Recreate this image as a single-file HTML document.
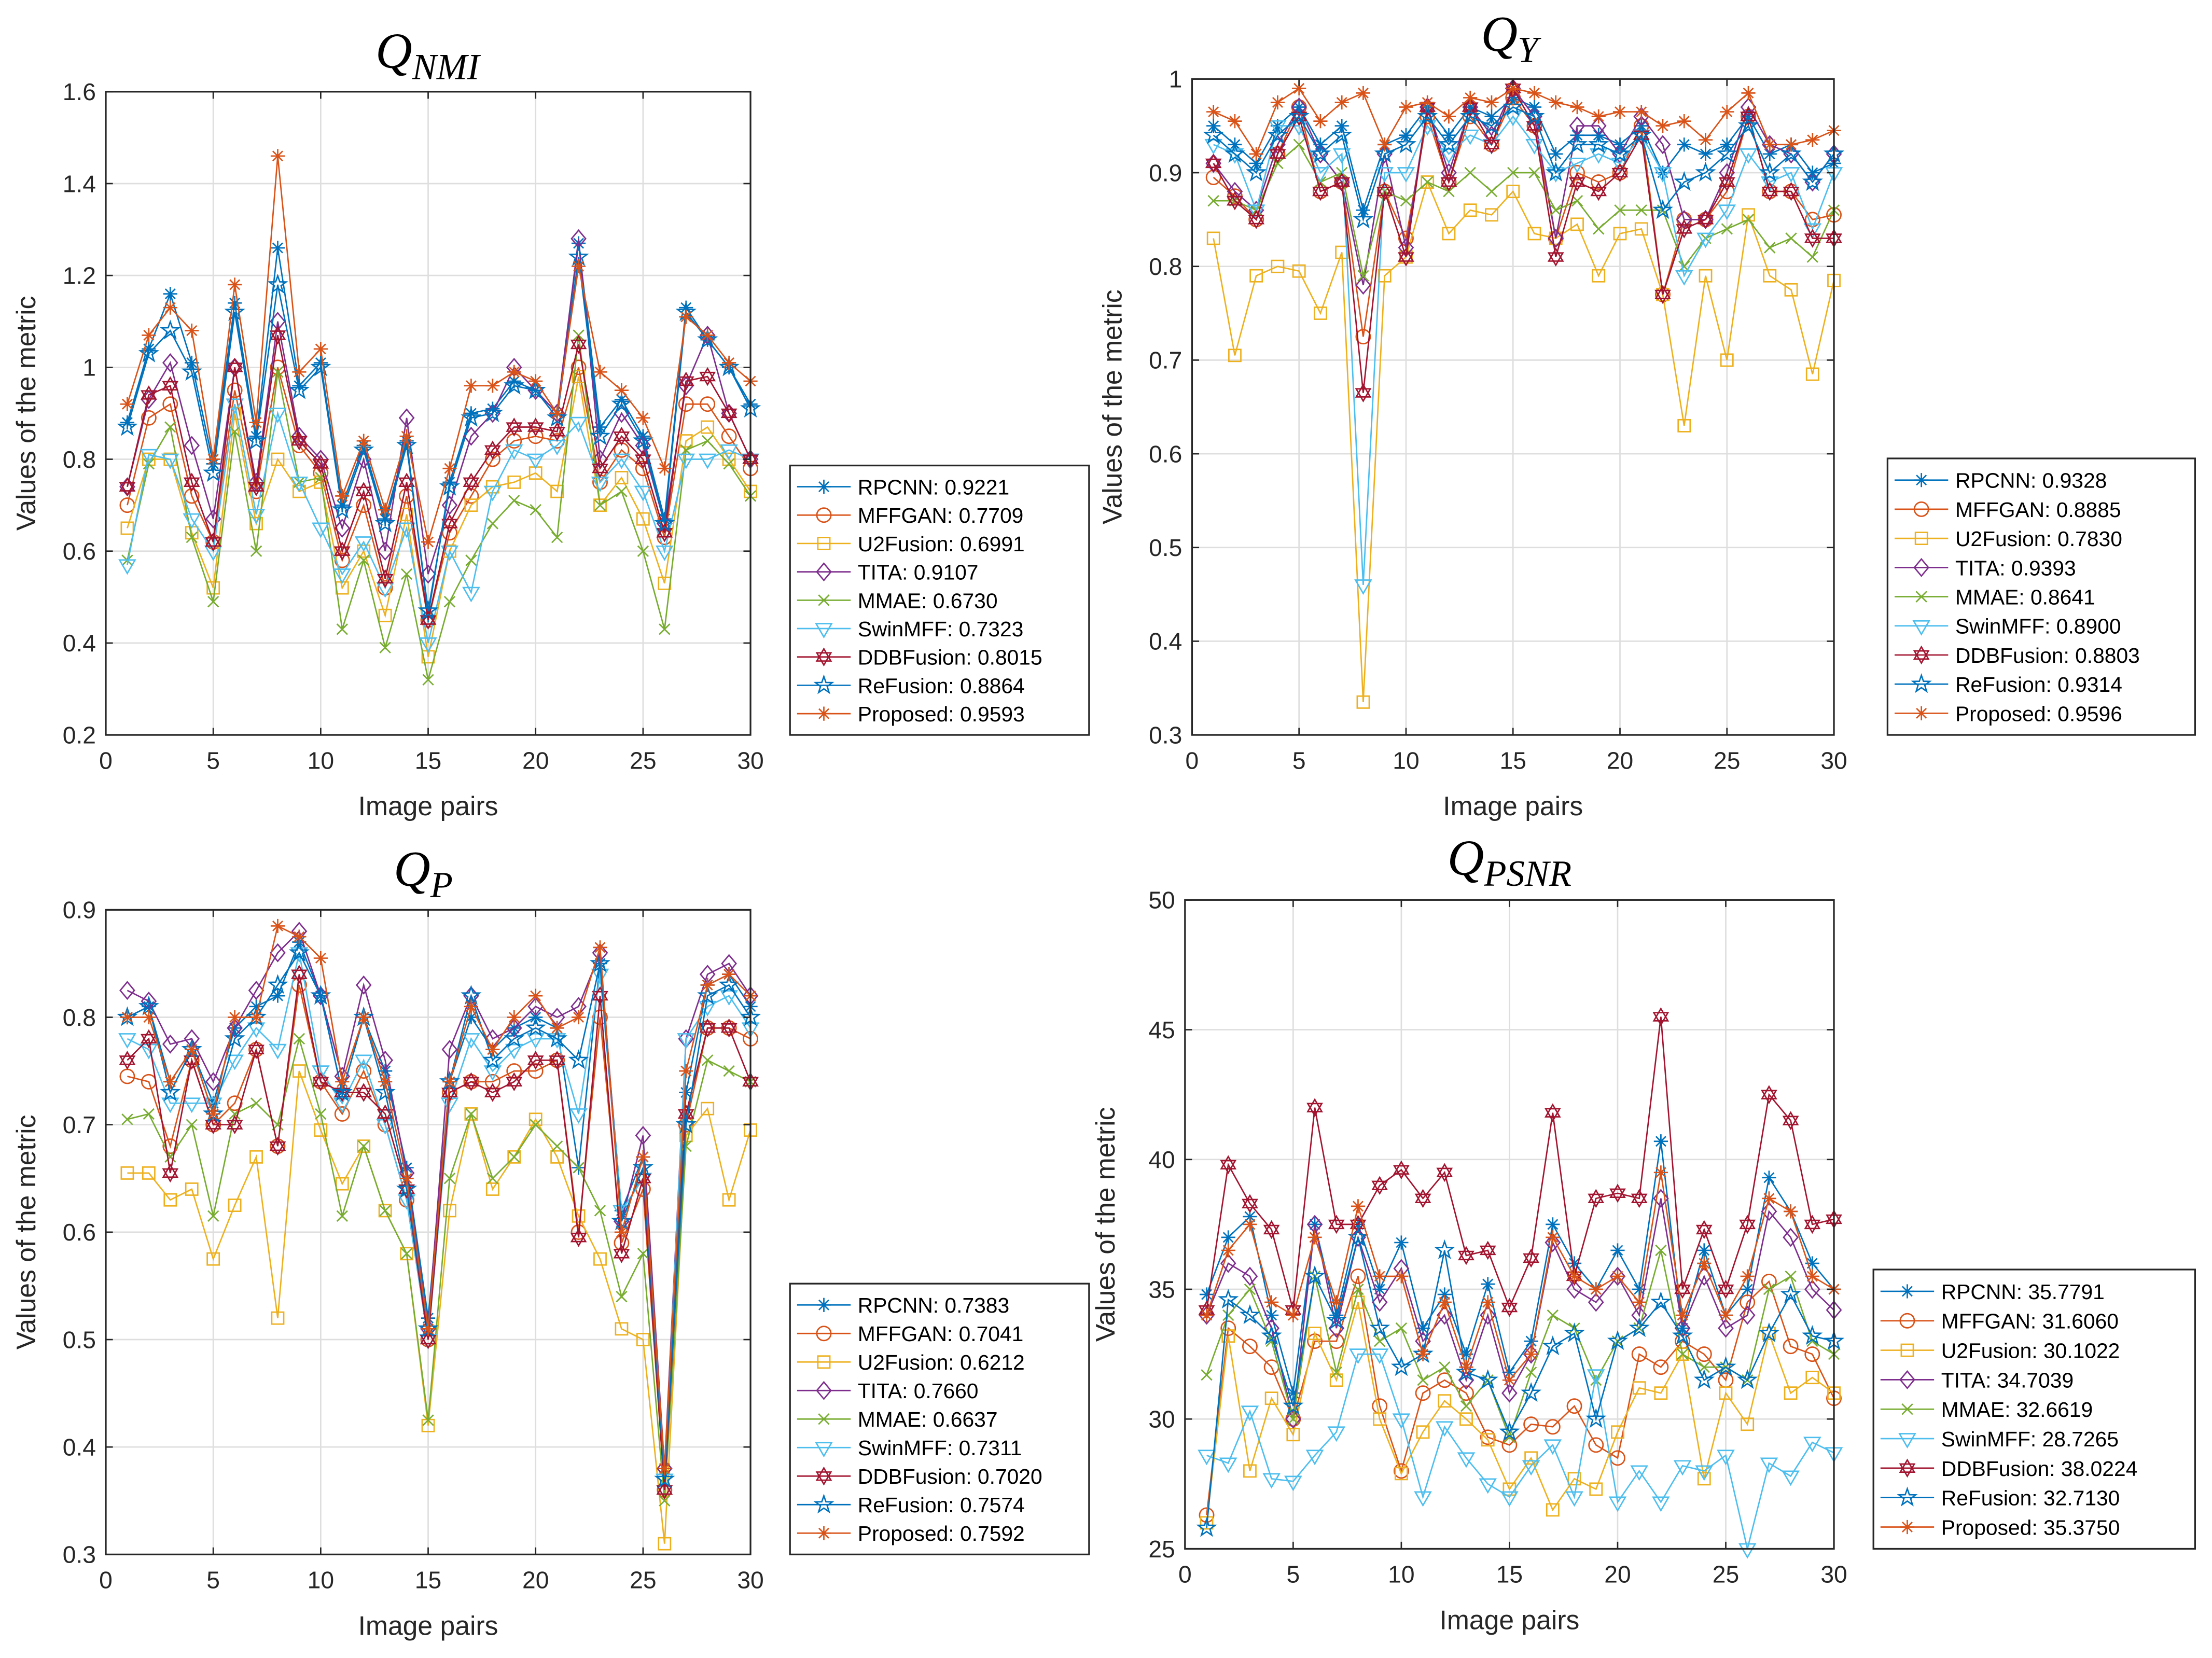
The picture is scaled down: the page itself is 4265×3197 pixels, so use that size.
<!DOCTYPE html>
<html><head><meta charset="utf-8"><style>
html,body{margin:0;padding:0;background:#fff;}
svg{display:block;}
</style></head><body>
<svg id="fig" width="4265" height="3197" viewBox="0 0 1568 1175.4" preserveAspectRatio="none" xmlns="http://www.w3.org/2000/svg" font-family="Liberation Sans, Arial, sans-serif"></svg>
<script>
const names = ["RPCNN","MFFGAN","U2Fusion","TITA","MMAE","SwinMFF","DDBFusion","ReFusion","Proposed"];
const colors = ["#0072BD","#D95319","#EDB120","#7E2F8E","#77AC30","#4DBEEE","#A2142F","#0072BD","#D95319"];
const markers = ["asterisk","circle","square","diamond","x","tri","hex","pent","asterisk"];
const xTicks = [0,5,10,15,20,25,30];

// Panel 1: Q_NMI
const nmiMeans = ["0.9221","0.7709","0.6991","0.9107","0.6730","0.7323","0.8015","0.8864","0.9593"];
const nmiRPCNN = [0.88,1.04,1.16,1.01,0.79,1.14,0.85,1.26,0.96,1.01,0.70,0.83,0.67,0.84,0.46,0.75,0.90,0.91,0.97,0.95,0.90,1.27,0.87,0.93,0.85,0.67,1.13,1.06,1.00,0.92];
const nmiMFFGAN = [0.70,0.89,0.92,0.72,0.62,0.95,0.73,1.00,0.83,0.77,0.58,0.70,0.52,0.72,0.45,0.64,0.72,0.80,0.84,0.85,0.84,1.00,0.75,0.82,0.78,0.63,0.92,0.92,0.85,0.78];
const nmiU2Fusion = [0.65,0.80,0.80,0.64,0.52,0.90,0.66,0.80,0.73,0.75,0.52,0.60,0.46,0.68,0.37,0.60,0.70,0.74,0.75,0.77,0.73,0.98,0.70,0.76,0.67,0.53,0.84,0.87,0.80,0.73];
const nmiTITA = [0.74,0.93,1.01,0.83,0.67,1.00,0.75,1.10,0.85,0.80,0.65,0.80,0.60,0.89,0.55,0.70,0.85,0.90,1.00,0.95,0.90,1.28,0.80,0.90,0.83,0.66,0.96,1.07,0.90,0.80];
const nmiMMAE = [0.58,0.79,0.87,0.63,0.49,0.86,0.60,0.99,0.75,0.76,0.43,0.58,0.39,0.55,0.32,0.49,0.58,0.66,0.71,0.69,0.63,1.07,0.70,0.73,0.60,0.43,0.82,0.84,0.79,0.72];
const nmiSwinMFF = [0.57,0.81,0.80,0.67,0.60,0.92,0.68,0.90,0.75,0.65,0.55,0.62,0.52,0.65,0.40,0.60,0.51,0.73,0.82,0.80,0.83,0.88,0.75,0.80,0.73,0.60,0.80,0.80,0.82,0.80];
const nmiDDBFusion = [0.74,0.94,0.96,0.75,0.62,1.00,0.74,1.07,0.84,0.79,0.60,0.73,0.54,0.75,0.45,0.66,0.75,0.82,0.87,0.87,0.86,1.05,0.78,0.85,0.80,0.64,0.97,0.98,0.90,0.80];
const nmiReFusion = [0.87,1.03,1.08,0.99,0.77,1.12,0.84,1.18,0.95,1.00,0.69,0.82,0.66,0.83,0.47,0.74,0.89,0.90,0.96,0.95,0.89,1.24,0.85,0.92,0.84,0.66,1.12,1.06,1.00,0.91];
const nmiProposed = [0.92,1.07,1.13,1.08,0.80,1.18,0.88,1.46,0.99,1.04,0.72,0.84,0.69,0.85,0.62,0.78,0.96,0.96,0.99,0.97,0.90,1.22,0.99,0.95,0.89,0.78,1.11,1.07,1.01,0.97];
const nmiYTicks = ["0.2","0.4","0.6","0.8","1","1.2","1.4","1.6"];

// Panel 2: Q_Y
const yMeans = ["0.9328","0.8885","0.7830","0.9393","0.8641","0.8900","0.8803","0.9314","0.9596"];
const yRPCNN = [0.95,0.93,0.91,0.95,0.97,0.93,0.95,0.86,0.93,0.94,0.97,0.94,0.97,0.96,0.98,0.97,0.92,0.94,0.94,0.93,0.95,0.90,0.93,0.92,0.93,0.96,0.92,0.93,0.90,0.91];
const yMFFGAN = [0.895,0.875,0.85,0.92,0.97,0.88,0.89,0.725,0.88,0.83,0.96,0.89,0.96,0.93,0.98,0.95,0.83,0.90,0.89,0.90,0.95,0.77,0.85,0.85,0.88,0.96,0.88,0.88,0.85,0.855];
const yU2Fusion = [0.83,0.705,0.79,0.80,0.795,0.75,0.815,0.335,0.79,0.81,0.89,0.835,0.86,0.855,0.88,0.835,0.83,0.845,0.79,0.835,0.84,0.77,0.63,0.79,0.70,0.855,0.79,0.775,0.685,0.785];
const yTITA = [0.91,0.88,0.86,0.93,0.97,0.92,0.89,0.78,0.92,0.82,0.97,0.90,0.97,0.94,0.99,0.96,0.83,0.95,0.95,0.92,0.96,0.93,0.85,0.85,0.90,0.97,0.93,0.92,0.89,0.92];
const yMMAE = [0.87,0.87,0.86,0.91,0.93,0.89,0.90,0.79,0.88,0.87,0.89,0.88,0.90,0.88,0.90,0.90,0.86,0.87,0.84,0.86,0.86,0.86,0.80,0.83,0.84,0.85,0.82,0.83,0.81,0.86];
const ySwinMFF = [0.93,0.92,0.86,0.95,0.95,0.90,0.92,0.46,0.90,0.90,0.95,0.92,0.94,0.93,0.96,0.93,0.90,0.91,0.92,0.91,0.94,0.90,0.79,0.83,0.86,0.92,0.89,0.90,0.84,0.90];
const yDDBFusion = [0.91,0.87,0.85,0.92,0.96,0.88,0.89,0.665,0.88,0.81,0.97,0.89,0.97,0.93,0.99,0.95,0.81,0.89,0.88,0.90,0.94,0.77,0.84,0.85,0.89,0.96,0.88,0.88,0.83,0.83];
const yReFusion = [0.94,0.92,0.90,0.94,0.96,0.92,0.94,0.85,0.92,0.93,0.96,0.93,0.96,0.95,0.97,0.96,0.90,0.93,0.93,0.92,0.94,0.86,0.89,0.90,0.92,0.95,0.90,0.92,0.89,0.92];
const yProposed = [0.965,0.955,0.92,0.975,0.99,0.955,0.975,0.985,0.93,0.97,0.975,0.96,0.98,0.975,0.99,0.985,0.975,0.97,0.96,0.965,0.965,0.95,0.955,0.935,0.965,0.985,0.93,0.93,0.935,0.945];
const yYTicks = ["0.3","0.4","0.5","0.6","0.7","0.8","0.9","1"];

// Panel 3: Q_P
const pMeans = ["0.7383","0.7041","0.6212","0.7660","0.6637","0.7311","0.7020","0.7574","0.7592"];
const pRPCNN = [0.80,0.81,0.74,0.77,0.72,0.79,0.81,0.82,0.87,0.82,0.73,0.80,0.75,0.66,0.52,0.74,0.80,0.77,0.79,0.80,0.79,0.66,0.85,0.62,0.67,0.38,0.73,0.83,0.84,0.81];
const pMFFGAN = [0.745,0.74,0.68,0.76,0.70,0.72,0.77,0.68,0.83,0.74,0.71,0.75,0.70,0.63,0.50,0.73,0.74,0.74,0.75,0.75,0.76,0.60,0.80,0.59,0.64,0.36,0.70,0.79,0.79,0.78];
const pU2Fusion = [0.655,0.655,0.63,0.64,0.575,0.625,0.67,0.52,0.75,0.695,0.645,0.68,0.62,0.58,0.42,0.62,0.71,0.64,0.67,0.705,0.67,0.615,0.575,0.51,0.50,0.31,0.69,0.715,0.63,0.695];
const pTITA = [0.825,0.815,0.775,0.78,0.74,0.79,0.825,0.86,0.88,0.82,0.745,0.83,0.76,0.655,0.51,0.77,0.82,0.78,0.79,0.81,0.80,0.81,0.86,0.61,0.69,0.38,0.78,0.84,0.85,0.82];
const pMMAE = [0.705,0.71,0.67,0.70,0.615,0.71,0.72,0.70,0.78,0.71,0.615,0.68,0.62,0.58,0.425,0.65,0.71,0.65,0.67,0.70,0.68,0.66,0.62,0.54,0.58,0.35,0.68,0.76,0.75,0.74];
const pSwinMFF = [0.78,0.77,0.72,0.72,0.72,0.76,0.79,0.77,0.86,0.75,0.72,0.76,0.70,0.63,0.50,0.72,0.78,0.75,0.77,0.78,0.78,0.71,0.84,0.62,0.65,0.37,0.78,0.81,0.82,0.79];
const pDDBFusion = [0.76,0.78,0.655,0.76,0.70,0.70,0.77,0.68,0.84,0.74,0.73,0.73,0.71,0.64,0.50,0.73,0.74,0.73,0.74,0.76,0.76,0.595,0.82,0.58,0.65,0.36,0.71,0.79,0.79,0.74];
const pReFusion = [0.80,0.81,0.73,0.77,0.71,0.78,0.80,0.83,0.86,0.82,0.73,0.80,0.73,0.64,0.51,0.74,0.82,0.76,0.78,0.79,0.78,0.76,0.85,0.61,0.66,0.37,0.70,0.82,0.83,0.80];
const pProposed = [0.80,0.80,0.74,0.77,0.71,0.80,0.80,0.885,0.875,0.855,0.74,0.80,0.74,0.65,0.51,0.74,0.81,0.77,0.80,0.82,0.79,0.80,0.865,0.60,0.67,0.38,0.75,0.83,0.84,0.82];
const pYTicks = ["0.3","0.4","0.5","0.6","0.7","0.8","0.9"];

// Panel 4: Q_PSNR
const psMeans = ["35.7791","31.6060","30.1022","34.7039","32.6619","28.7265","38.0224","32.7130","35.3750"];
const psRPCNN = [34.8,37.0,37.8,34.0,31.0,37.5,34.0,37.5,35.0,36.8,33.5,34.8,32.5,35.2,31.8,33.0,37.5,36.0,35.0,36.5,35.0,40.7,33.5,36.5,34.0,35.0,39.3,38.0,36.0,35.0];
const psMFFGAN = [26.3,33.5,32.8,32.0,30.0,33.0,33.0,35.5,30.5,28.0,31.0,31.5,31.0,29.3,29.0,29.8,29.7,30.5,29.0,28.5,32.5,32.0,33.0,32.5,31.5,34.5,35.3,32.8,32.5,30.8];
const psU2Fusion = [26.0,33.2,28.0,30.8,29.4,33.3,31.5,34.5,30.0,27.9,29.5,30.7,30.0,29.2,27.3,28.5,26.5,27.7,27.3,29.5,31.2,31.0,32.5,27.7,31.0,29.8,33.3,31.0,31.6,31.0];
const psTITA = [34.0,36.0,35.5,33.5,30.0,37.5,33.5,37.0,34.5,35.8,33.0,34.0,31.5,34.0,31.0,32.5,36.8,35.0,34.5,35.5,34.0,38.5,33.5,35.5,33.5,34.0,38.0,37.0,35.0,34.2];
const psMMAE = [31.7,34.0,35.0,33.0,30.0,35.5,31.8,35.0,33.0,33.5,31.5,32.0,30.5,31.5,29.3,31.8,34.0,33.5,31.5,33.0,33.5,36.5,32.5,32.0,32.0,31.5,35.0,35.5,33.0,32.5];
const psSwinMFF = [28.6,28.3,30.3,27.7,27.6,28.6,29.5,32.5,32.5,30.0,27.0,29.7,28.5,27.5,27.0,28.2,29.0,27.0,31.7,26.8,28.0,26.8,28.2,28.0,28.6,25.0,28.3,27.8,29.1,28.7];
const psDDBFusion = [34.2,39.8,38.3,37.3,34.2,42.0,37.5,37.5,39.0,39.6,38.5,39.5,36.3,36.5,34.3,36.2,41.8,35.5,38.5,38.7,38.5,45.5,35.0,37.3,35.0,37.5,42.5,41.5,37.5,37.7];
const psReFusion = [25.8,34.6,34.0,33.2,30.5,35.5,33.8,37.0,33.5,32.0,32.5,36.5,31.8,31.5,29.5,31.0,32.8,33.3,30.0,33.0,33.5,34.5,33.2,31.5,32.0,31.5,33.3,34.8,33.2,33.0];
const psProposed = [34.0,36.5,37.5,34.5,34.0,37.0,34.5,38.2,35.5,35.5,32.5,34.5,32.0,34.5,31.5,32.5,37.0,35.5,35.0,35.5,34.5,39.5,34.0,36.0,34.0,35.5,38.5,38.0,35.5,35.0];
const psYTicks = ["25","30","35","40","45","50"];

const NS = "http://www.w3.org/2000/svg";
const svg = document.getElementById('fig');
function mk(tag, attrs, parent){ const e=document.createElementNS(NS,tag); for(const k in attrs) e.setAttribute(k,attrs[k]); (parent||svg).appendChild(e); return e; }

function drawMarker(g, type, x, y, c){
  const r=5;
  let e;
  if(type==="asterisk"){
    e=mk('path',{d:`M${x-r},${y}H${x+r}M${x},${y-r}V${y+r}M${x-r*0.7},${y-r*0.7}L${x+r*0.7},${y+r*0.7}M${x-r*0.7},${y+r*0.7}L${x+r*0.7},${y-r*0.7}`,stroke:c,fill:'none','stroke-width':1},g);
  } else if(type==="x"){
    e=mk('path',{d:`M${x-r*0.75},${y-r*0.75}L${x+r*0.75},${y+r*0.75}M${x-r*0.75},${y+r*0.75}L${x+r*0.75},${y-r*0.75}`,stroke:c,fill:'none','stroke-width':1},g);
  } else if(type==="circle"){
    e=mk('circle',{cx:x,cy:y,r:r,stroke:c,fill:'none','stroke-width':1},g);
  } else if(type==="square"){
    e=mk('rect',{x:x-r*0.85,y:y-r*0.85,width:r*1.7,height:r*1.7,stroke:c,fill:'none','stroke-width':1},g);
  } else if(type==="diamond"){
    e=mk('path',{d:`M${x},${y-r*1.2}L${x+r},${y}L${x},${y+r*1.2}L${x-r},${y}Z`,stroke:c,fill:'none','stroke-width':1},g);
  } else if(type==="tri"){
    e=mk('path',{d:`M${x-r*1.1},${y-r*0.7}L${x+r*1.1},${y-r*0.7}L${x},${y+r*1.2}Z`,stroke:c,fill:'none','stroke-width':1},g);
  } else if(type==="hex"){
    let d='';
    for(let t=0;t<2;t++){ d+='M'; for(let i=0;i<3;i++){ const a=(t*60+i*120-90)*Math.PI/180; d+=`${x+r*1.15*Math.cos(a)},${y+r*1.15*Math.sin(a)} `; if(i<2) d+='L'; } d+='Z'; }
    e=mk('path',{d:d,stroke:c,fill:'none','stroke-width':1},g);
  } else if(type==="pent"){
    let d='M';
    for(let i=0;i<10;i++){ const a=(i*36-90)*Math.PI/180; const rr=i%2?r*0.5:r*1.25; d+=`${x+rr*Math.cos(a)},${y+rr*Math.sin(a)} `; if(i<9) d+='L'; }
    d+='Z';
    e=mk('path',{d:d,stroke:c,fill:'none','stroke-width':1},g);
  }
  return e;
}

function panel(cfg){
  const {x0,x1,y0,y1,ymin,ymax,yTicks,series,means,title,sub,tx,ty,leg,name} = cfg;
  const g = mk('g',{});
  
  
  const sx = v => x0 + (v-0)/(30-0)*(x1-x0);
  const sy = v => y1 - (v-ymin)/(ymax-ymin)*(y1-y0);
  xTicks.forEach(t=>{ const gl=mk('line',{x1:sx(t),x2:sx(t),y1:y0,y2:y1,stroke:'#dedede','stroke-width':1},g);
      });
  yTicks.forEach(t=>{ const v=parseFloat(t); const gl=mk('line',{x1:x0,x2:x1,y1:sy(v),y2:sy(v),stroke:'#dedede','stroke-width':1},g);
      });
  series.forEach((vals,si)=>{
    const sg = mk('g',{},g);
    
    
    const pts = vals.map((v,i)=>`${sx(i+1)},${sy(v)}`).join(' ');
    mk('polyline',{points:pts,fill:'none',stroke:colors[si],'stroke-width':1},sg);
    vals.forEach((v,i)=>{ const m=drawMarker(sg,markers[si],sx(i+1),sy(v),colors[si]);
        });
  });
  const box=mk('rect',{x:x0,y:y0,width:x1-x0,height:y1-y0,fill:'none',stroke:'#262626','stroke-width':1.2},g);
   
  xTicks.forEach(t=>{
    mk('line',{x1:sx(t),x2:sx(t),y1:y1,y2:y1-5,stroke:'#262626'},g);
    mk('line',{x1:sx(t),x2:sx(t),y1:y0,y2:y0+5,stroke:'#262626'},g);
    const tl=mk('text',{x:sx(t),y:y1+24,'text-anchor':'middle','font-size':17,fill:'#262626'},g); tl.textContent=t;
     
  });
  yTicks.forEach(t=>{ const v=parseFloat(t);
    mk('line',{x1:x0,x2:x0+5,y1:sy(v),y2:sy(v),stroke:'#262626'},g);
    mk('line',{x1:x1,x2:x1-5,y1:sy(v),y2:sy(v),stroke:'#262626'},g);
    const tl=mk('text',{x:x0-7,y:sy(v)+6,'text-anchor':'end','font-size':17,fill:'#262626'},g); tl.textContent=t;
     
  });
  const xl=mk('text',{x:(x0+x1)/2,y:y1+57,'text-anchor':'middle','font-size':19,fill:'#262626'},g); xl.textContent='Image pairs';
   
  const yc=(y0+y1)/2, yx=x0-50;
  const yl=mk('text',{x:yx,y:yc,'text-anchor':'middle','font-size':19,fill:'#262626',transform:`rotate(-90 ${yx} ${yc})`},g); yl.textContent='Values of the metric';
   
  const tt=mk('text',{x:tx,y:ty,'text-anchor':'middle','font-family':'Liberation Serif, serif','font-style':'italic','font-size':36,fill:'#000'},g);
   
  const t1=mk('tspan',{},tt); t1.textContent=title;
  const t2=mk('tspan',{'font-size':26,dy:8},tt); t2.textContent=sub;
  const lg=mk('g',{},g);
   
  mk('rect',{x:leg.x,y:leg.y,width:leg.w,height:leg.h,fill:'#fff',stroke:'#262626','stroke-width':1.2},lg);
  const rh=(leg.h-10)/9;
  names.forEach((n,i)=>{
    const ey=leg.y+5+rh*(i+0.5);
    const eg=mk('g',{},lg);
    
    
    mk('line',{x1:leg.x+5,x2:leg.x+43,y1:ey,y2:ey,stroke:colors[i],'stroke-width':1},eg);
    drawMarker(eg,markers[i],leg.x+24,ey,colors[i]);
    const lt=mk('text',{x:leg.x+48,y:ey+5.5,'font-size':15,fill:'#000'},eg); lt.textContent=n+': '+means[i];
  });
}

panel({name:'q-nmi',x0:75,x1:532,y0:65,y1:521,ymin:0.2,ymax:1.6,yTicks:nmiYTicks,
  series:[nmiRPCNN,nmiMFFGAN,nmiU2Fusion,nmiTITA,nmiMMAE,nmiSwinMFF,nmiDDBFusion,nmiReFusion,nmiProposed],
  means:nmiMeans,title:'Q',sub:'NMI',tx:303,ty:48,leg:{x:560,y:330,w:212,h:191}});
panel({name:'q-y',x0:845,x1:1300,y0:56,y1:521,ymin:0.3,ymax:1.0,yTicks:yYTicks,
  series:[yRPCNN,yMFFGAN,yU2Fusion,yTITA,yMMAE,ySwinMFF,yDDBFusion,yReFusion,yProposed],
  means:yMeans,title:'Q',sub:'Y',tx:1070,ty:36,leg:{x:1338,y:325,w:218,h:196}});
panel({name:'q-p',x0:75,x1:532,y0:645,y1:1102,ymin:0.3,ymax:0.9,yTicks:pYTicks,
  series:[pRPCNN,pMFFGAN,pU2Fusion,pTITA,pMMAE,pSwinMFF,pDDBFusion,pReFusion,pProposed],
  means:pMeans,title:'Q',sub:'P',tx:300,ty:628,leg:{x:560,y:910,w:212,h:192}});
panel({name:'q-psnr',x0:840,x1:1300,y0:638,y1:1098,ymin:25,ymax:50,yTicks:psYTicks,
  series:[psRPCNN,psMFFGAN,psU2Fusion,psTITA,psMMAE,psSwinMFF,psDDBFusion,psReFusion,psProposed],
  means:psMeans,title:'Q',sub:'PSNR',tx:1070,ty:620,leg:{x:1328,y:900,w:228,h:198}});
</script>
</body></html>
